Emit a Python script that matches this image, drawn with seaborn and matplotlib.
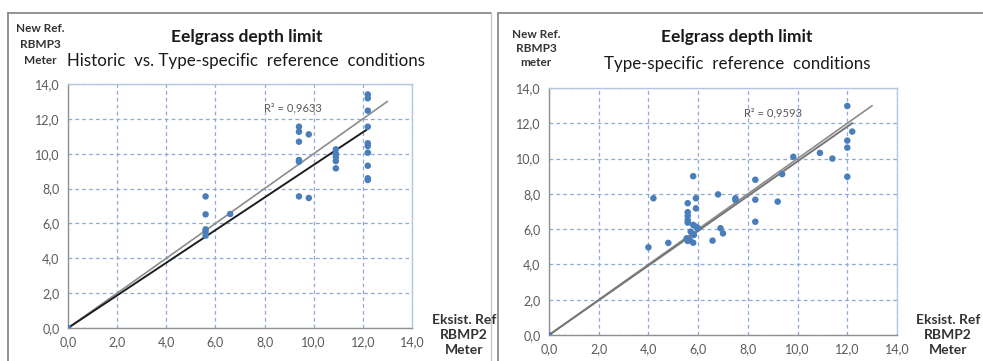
import numpy as np
import pandas as pd
import matplotlib
matplotlib.use("Agg")
import matplotlib.pyplot as plt
from matplotlib.lines import Line2D
from matplotlib.ticker import FuncFormatter
import seaborn as sns

# ---- data: historic vs. type-specific (left panel) ----
hist_x = [0.0,
          5.6, 5.6, 5.6, 5.6, 5.6,
          6.6,
          9.4, 9.4, 9.4, 9.4, 9.4, 9.4,
          9.8, 9.8,
          10.9, 10.9, 10.9, 10.9, 10.9,
          12.2, 12.2, 12.2, 12.2, 12.2, 12.2, 12.2, 12.2, 12.2, 12.2]
hist_y = [0.0,
          7.55, 6.52, 5.66, 5.53, 5.30,
          6.54,
          11.55, 11.26, 10.69, 9.64, 9.54, 7.55,
          11.11, 7.46,
          10.25, 10.00, 9.80, 9.58, 9.16,
          13.40, 13.18, 12.47, 11.55, 10.60, 10.44, 10.06, 9.31, 8.59, 8.49]

# ---- data: type-specific reference conditions (right panel) ----
type_x = [0.0, 4.0, 4.2, 4.8,
          5.58, 5.58, 5.58, 5.58, 5.58, 5.54, 5.66, 5.58, 5.8,
          5.8, 5.8, 5.91, 5.91, 5.91, 5.7, 5.83, 6.0,
          6.58, 6.8, 6.9, 7.0, 7.5, 7.5,
          8.3, 8.3, 8.3, 9.2, 9.38, 9.83,
          10.9, 11.4, 12.0, 12.0, 12.0, 12.0, 12.2]
type_y = [0.0, 4.97, 7.75, 5.22,
          7.47, 6.96, 6.76, 6.52, 6.37, 5.48, 5.39, 5.33, 5.23,
          9.0, 6.24, 7.75, 7.18, 6.14, 5.86, 5.67, 6.05,
          5.35, 7.97, 6.05, 5.76, 7.75, 7.65,
          8.80, 7.67, 6.42, 7.56, 9.12, 10.10,
          10.32, 10.0, 12.98, 11.02, 10.62, 8.97, 11.53]

# 1:1 reference line end point and fit statistics shown on the charts
ref_end = 13.0
r2_labels = ["R² = 0,9633", "R² = 0,9593"]

titles = ["Eelgrass depth limit", "Eelgrass depth limit"]
subtitles = ["Historic  vs. Type-specific  reference  conditions",
             "Type-specific  reference  conditions"]
ylabels = ["New Ref.\nRBMP3\nMeter", "New Ref.\nRBMP3\nmeter"]
xlabel = "Eksist. Ref\nRBMP2\nMeter"
ticks = [0, 2, 4, 6, 8, 10, 12, 14]

W, H = 983, 361
sns.set_theme(style="white")
plt.rcParams["font.family"] = ["Lato", "DejaVu Sans"]

fig = plt.figure(figsize=(W / 100, H / 100), dpi=100)
fig.patch.set_facecolor("white")


def fx(px):
    return px / W


def fy(py):
    return 1 - py / H


def box(x0, x1, y0, y1):
    return [fx(x0), fy(y1), fx(x1) - fx(x0), fy(y0) - fy(y1)]


# outer frames around each chart
frame_col = "#8a8a8a"
fig.add_artist(Line2D([fx(8), fx(491)], [fy(13), fy(13)], color=frame_col, lw=1.3))
fig.add_artist(Line2D([fx(8), fx(8)], [fy(13), fy(365)], color=frame_col, lw=1.3))
fig.add_artist(Line2D([fx(491), fx(491)], [fy(13), fy(365)], color="#c8c8c8", lw=1.0))
fig.add_artist(Line2D([fx(498), fx(990)], [fy(13), fy(13)], color=frame_col, lw=1.3))
fig.add_artist(Line2D([fx(498), fx(498)], [fy(13), fy(365)], color=frame_col, lw=1.3))

axes_boxes = [box(68, 412, 84, 328), box(549, 897, 88, 335)]
datasets = [(hist_x, hist_y), (type_x, type_y)]
fit_colors = ["#1e1e1e", "#767676"]

title_pos = [(247, 37), (737, 37)]
sub_pos = [(246, 61), (737, 64)]
ylab_pos = [(40, 44.5), (536, 48.5)]
ylab_spacing = [1.55, 1.3]
xlab_pos = [(464, 335), (948, 335)]
r2_pos = [(9.15, 12.6), (9.0, 12.6)]

fmt = FuncFormatter(lambda v, _: f"{v:.1f}".replace(".", ","))

for i, (rect, (xs, ys)) in enumerate(zip(axes_boxes, datasets)):
    ax = fig.add_axes(rect)
    df = pd.DataFrame({"x": xs, "y": ys})

    # regression through the origin over the observed x-range
    xa = np.asarray(xs)
    ya = np.asarray(ys)
    slope = np.sum(xa * ya) / np.sum(xa * xa)
    xfit = np.array([0.0, xa.max()])

    ax.plot([0, ref_end], [0, ref_end], color="#8c8c8c", lw=1.2, zorder=2)
    ax.plot(xfit, slope * xfit, color=fit_colors[i], lw=1.4, zorder=2)
    sns.scatterplot(data=df, x="x", y="y", ax=ax, color="#4a7ebb", s=22,
                    edgecolor="none", zorder=3, legend=False)

    ax.set_xlim(0, 14)
    ax.set_ylim(0, 14)
    ax.set_xticks(ticks)
    ax.set_yticks(ticks)
    ax.xaxis.set_major_formatter(fmt)
    ax.yaxis.set_major_formatter(fmt)
    ax.set_xlabel("")
    ax.set_ylabel("")
    ax.grid(True, color="#8eaad6", linestyle=(0, (3, 2.5)), lw=0.9)
    ax.set_axisbelow(True)
    ax.tick_params(axis="both", labelsize=9, labelcolor="#5a5a5a", length=0, pad=6)
    for s in ["left", "bottom"]:
        ax.spines[s].set_color("#909090")
        ax.spines[s].set_linewidth(1.0)
    for s in ["top", "right"]:
        ax.spines[s].set_color("#b4c8e4")
        ax.spines[s].set_linewidth(1.0)

    ax.text(r2_pos[i][0], r2_pos[i][1], r2_labels[i], fontsize=8, color="#595959",
            ha="center", va="center")

    fig.text(fx(title_pos[i][0]), fy(title_pos[i][1]), titles[i], fontsize=12.5,
             fontweight="bold", ha="center", va="center", color="#1a1a1a")
    fig.text(fx(sub_pos[i][0]), fy(sub_pos[i][1]), subtitles[i], fontsize=12.2,
             ha="center", va="center", color="#1a1a1a")
    fig.text(fx(ylab_pos[i][0]), fy(ylab_pos[i][1]), ylabels[i], fontsize=8.5,
             fontweight="bold", ha="center", va="center", color="#333333",
             linespacing=ylab_spacing[i])
    fig.text(fx(xlab_pos[i][0]), fy(xlab_pos[i][1]), xlabel, fontsize=10,
             fontweight="bold", ha="center", va="center", color="#333333",
             linespacing=1.35)

fig.savefig("out.png", dpi=100, facecolor="white")
